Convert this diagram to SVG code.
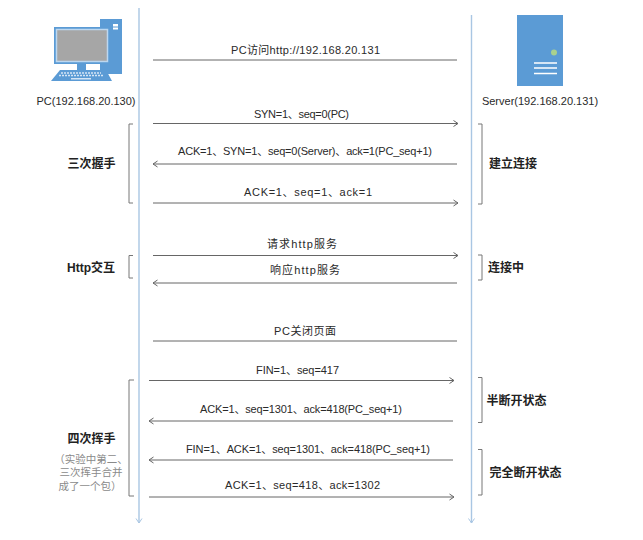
<svg xmlns="http://www.w3.org/2000/svg" width="643" height="540" viewBox="0 0 643 540">
<style>
text{font-family:"Liberation Sans","Noto Sans CJK SC",sans-serif;fill:#2a2a2a;font-size:11px}
.m{text-anchor:middle}
.b{font-weight:700;font-size:12px;fill:#222;text-anchor:middle}
.n{font-size:10.5px;fill:#8a8a8a;text-anchor:middle}
.l{stroke:#666;stroke-width:1;fill:none}
.life{stroke:#a9c6e3;stroke-width:1.4;fill:none}
.br{stroke:#777;stroke-width:1;fill:none}
</style>
<defs>
<marker id="a" markerWidth="8" markerHeight="8" refX="6" refY="4" orient="auto" markerUnits="userSpaceOnUse"><path d="M1.500 1L6 4L1.500 7" fill="none" stroke="#666" stroke-width="1"/></marker>
<marker id="b" markerWidth="8" markerHeight="8" refX="6" refY="4" orient="auto" markerUnits="userSpaceOnUse"><path d="M1.500 1L6 4L1.500 7" fill="none" stroke="#a9c6e3" stroke-width="1"/></marker>
</defs>
<g id="pc">
<path d="M100 19h22v55h-22z" fill="#5b9bd5"/>
<rect x="113" y="24" width="5" height="2.500" fill="#fff"/><rect x="113" y="27.500" width="5" height="2" fill="#fff"/>
<rect x="54" y="27" width="56" height="37" fill="#5b9bd5"/>
<rect x="56.500" y="29.500" width="51" height="32" fill="#a6a6a6" stroke="#bcd7f0" stroke-width="1.500"/>
<rect x="77" y="64" width="9" height="6" fill="#5b9bd5"/>
<path d="M60 70h46l6 11H51z" fill="#5b9bd5"/>
<path d="M61 73h40M59 75.500h44" stroke="#d5e5f5" stroke-width="1.400" stroke-dasharray="2 1"/>
<rect x="71" y="78" width="20" height="1.500" fill="#d5e5f5"/>
<text class="m" x="86" y="105">PC(192.168.20.130)</text>
</g>
<g id="server">
<rect x="517" y="15" width="46" height="71" fill="#5b9bd5"/>
<circle cx="554" cy="52.500" r="3" fill="#a9d18e"/>
<path d="M534 63h23M534 68h23M534 73.500h23" stroke="#fff" stroke-width="1.600"/>
<text class="m" x="540" y="105">Server(192.168.20.131)</text>
</g>
<g id="connectors">
<path class="life" d="M139 8V523" marker-end="url(#b)"/>
<path class="life" d="M471.500 15V523" marker-end="url(#b)"/>
<path class="l" d="M153 60H457"/>
<path class="l" d="M153 123.500H458" marker-end="url(#a)"/>
<path class="l" d="M457 164H153" marker-end="url(#a)"/>
<path class="l" d="M153 203H458" marker-end="url(#a)"/>
<path class="l" d="M153 255.500H458" marker-end="url(#a)"/>
<path class="l" d="M457 283H153" marker-end="url(#a)"/>
<path class="l" d="M153 341H457"/>
<path class="l" d="M149 380.500H454" marker-end="url(#a)"/>
<path class="l" d="M453 421H149" marker-end="url(#a)"/>
<path class="l" d="M453 460H149" marker-end="url(#a)"/>
<path class="l" d="M149 497H454" marker-end="url(#a)"/>
</g>
<g id="labels">
<text class="m" x="305.500" y="54" textLength="149">PC访问http://192.168.20.131</text>
<text class="m" x="301.500" y="118" textLength="95">SYN=1、seq=0(PC)</text>
<text class="m" x="305" y="155" textLength="254">ACK=1、SYN=1、seq=0(Server)、ack=1(PC_seq+1)</text>
<text class="m" x="308" y="196" textLength="128">ACK=1、seq=1、ack=1</text>
<text class="m" x="302" y="248" textLength="70">请求http服务</text>
<text class="m" x="305" y="274" textLength="70">响应http服务</text>
<text class="m" x="305" y="335" textLength="62">PC关闭页面</text>
<text class="m" x="297.500" y="374" textLength="83">FIN=1、seq=417</text>
<text class="m" x="301" y="413" textLength="202">ACK=1、seq=1301、ack=418(PC_seq+1)</text>
<text class="m" x="308" y="453" textLength="244">FIN=1、ACK=1、seq=1301、ack=418(PC_seq+1)</text>
<text class="m" x="302.500" y="489" textLength="155">ACK=1、seq=418、ack=1302</text>
</g>
<g id="left-brackets">
<path class="br" d="M133 124H129V203H133"/>
<path class="br" d="M133 255.500H129V278H133"/>
<path class="br" d="M134 380H129V496H134"/>
<text class="b" x="91.500" y="168">三次握手</text>
<text class="b" x="91" y="272">Http交互</text>
<text class="b" x="91.500" y="443">四次挥手</text>
<text class="n" x="91" y="463">（实验中第二、</text>
<text class="n" x="91" y="476">三次挥手合并</text>
<text class="n" x="90" y="490">成了一个包）</text>
</g>
<g id="right-brackets">
<path class="br" d="M478 124H482V204H478"/>
<path class="br" d="M478 255H482V280H478"/>
<path class="br" d="M478 377.500H482V422.500H478"/>
<path class="br" d="M478 449.500H482V495H478"/>
<text class="b" x="513" y="168">建立连接</text>
<text class="b" x="506" y="272">连接中</text>
<text class="b" x="516.500" y="405">半断开状态</text>
<text class="b" x="525.500" y="477">完全断开状态</text>
</g>
</svg>
